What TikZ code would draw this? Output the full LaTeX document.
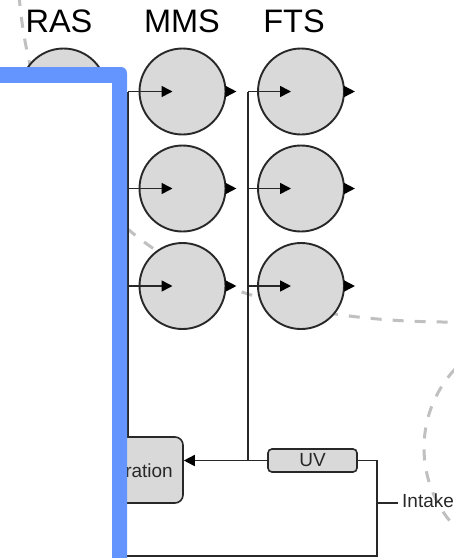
\documentclass[tikz,border=0pt]{standalone}
\usepackage{fontspec}
\setmainfont{Liberation Sans}
\usetikzlibrary{arrows.meta}
\definecolor{panelblue}{RGB}{100,149,255}
\definecolor{ink}{RGB}{40,40,40}
\definecolor{unitfill}{RGB}{217,217,217}
\definecolor{zoneline}{RGB}{192,192,192}

\begin{document}
\begin{tikzpicture}[x=1pt,y=-1pt,
  tank/.style={circle,draw=ink,fill=unitfill,line width=1.9pt,minimum size=86pt,inner sep=0pt},
  pipe/.style={draw=ink,line width=1.6pt},
  tip/.tip={Triangle[length=11pt,width=11pt,color=black]},
  feed/.style={pipe,-tip,shorten >=10pt},
  outlet/.style={pipe,-tip},
  unit/.style={draw=ink,fill=unitfill,line width=1.6pt,inner sep=0pt},
  zone/.style={draw=zoneline,line width=3pt,dash pattern=on 11pt off 11pt},
  head/.style={font=\fontsize{32.5}{36}\selectfont,text=black,anchor=base,inner sep=0pt},
  tag/.style={font=\fontsize{19}{22}\selectfont,text=ink,inner sep=0pt},
]
\path[use as bounding box] (0,0) rectangle (454,558);
\clip (0,0) rectangle (454,558);

% zone boundaries
\draw[zone] (19,-5) .. controls (40,250) and (235,324) .. (460,322);
\draw[zone] (540,448) circle[radius=116];

% column headings
\node[head] (ras) at (59,32.7) {RAS};
\node[head] (mms) at (182,32.7) {MMS};
\node[head] (fts) at (294,32.7) {FTS};

% tanks
\node[tank] (r1) at (63.5,91.5) {};
\foreach \n/\y in {1/91.5,2/188.5,3/286} {
  \node[tank] (m\n) at (182.5,\y) {};
  \node[tank] (f\n) at (301,\y) {};
}

% supply buses
\coordinate (mtop) at (128,91.5);
\coordinate (ftop) at (248,91.5);

% treatment units
\node[unit,rounded corners=8pt,minimum width=143pt,minimum height=66pt] (regen) at (111.5,470) {};
\node[tag,anchor=base east] (regenlabel) at (173,477) {ration};
\node[unit,tag,rounded corners=4pt,minimum width=89pt,minimum height=23pt] (uv) at (312.5,460.5) {UV};

\coordinate (fbot) at (uv.west -| ftop);
\coordinate (corner) at (377,556);
\coordinate (loopend) at (100,556);
\coordinate (tap) at (377,503);
\node[tag,anchor=base west,inner xsep=4pt] (intake) at (398,507) {Intake};

% piping
\draw[pipe] (mtop) -- (mtop |- regen.north);
\draw[pipe] (ftop) -- (fbot);
\foreach \n in {1,2,3} {
  \draw[feed] (mtop |- m\n) -- (m\n.center);
  \draw[feed] (ftop |- f\n) -- (f\n.center);
  \draw[outlet] (m\n.east) -- ++(10,0);
  \draw[outlet] (f\n.east) -- ++(10,0);
}
\draw[pipe,-tip] (uv.west) -- (uv.west -| regen.east);
\draw[pipe] (uv.east) -| (corner) -- (loopend);
\draw[pipe] (tap) -- (tap -| intake.west);

% overlay panel
\fill[panelblue,rounded corners=6pt] (-20,67) rectangle (127,600);
\fill[white] (-20,83) rectangle (112,600);
\end{tikzpicture}
\end{document}
